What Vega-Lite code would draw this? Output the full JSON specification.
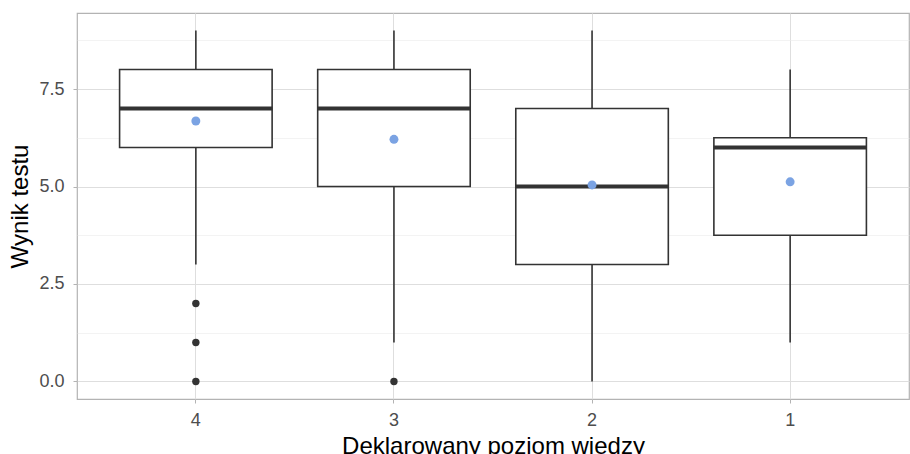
{
  "$schema": "https://vega.github.io/schema/vega-lite/v6.json",
  "autosize": "none",
  "width": 832,
  "height": 386,
  "padding": {"left": 77, "top": 13, "right": 1, "bottom": 55},
  "background": "white",
  "config": {
    "view": {"stroke": "#B3B3B3", "strokeWidth": 1.2},
    "font": "Liberation Sans",
    "axis": {
      "domain": false,
      "tickColor": "#B3B3B3",
      "tickSize": 4,
      "tickWidth": 1,
      "labelColor": "#4D4D4D",
      "labelFontSize": 18,
      "labelFont": "Liberation Sans",
      "titleFont": "Liberation Sans",
      "titleFontSize": 24,
      "titleFontWeight": "normal",
      "titleColor": "#000000",
      "gridColor": "#DEDEDE",
      "gridWidth": 1
    }
  },
  "datasets": {
    "summary": [
      {"poziom": "4", "min": 3, "q1": 6, "median": 7, "q3": 8, "max": 9, "mean": 6.68},
      {"poziom": "3", "min": 1, "q1": 5, "median": 7, "q3": 8, "max": 9, "mean": 6.21},
      {"poziom": "2", "min": 0, "q1": 3, "median": 5, "q3": 7, "max": 9, "mean": 5.04},
      {"poziom": "1", "min": 1, "q1": 3.75, "median": 6, "q3": 6.25, "max": 8, "mean": 5.12}
    ],
    "outliers": [
      {"poziom": "4", "wynik": 0},
      {"poziom": "4", "wynik": 1},
      {"poziom": "4", "wynik": 2},
      {"poziom": "3", "wynik": 0}
    ]
  },
  "resolve": {"axis": {"y": "independent"}},
  "layer": [
    {
      "data": {"name": "summary"},
      "mark": {"type": "rule", "opacity": 0},
      "encoding": {
        "x": {
          "field": "poziom", "type": "nominal", "sort": ["4", "3", "2", "1"],
          "scale": {"paddingInner": 0.23, "paddingOuter": 0.215},
          "axis": {"title": "Deklarowany poziom wiedzy", "labelAngle": 0, "labelPadding": 8, "titlePadding": 5, "grid": true, "bandPosition": 0.5}
        },
        "y": {
          "field": "min", "type": "quantitative",
          "scale": {"domain": [-0.45, 9.45], "nice": false, "zero": false},
          "axis": {"orient": "left", "values": [1.25, 3.75, 6.25, 8.75], "gridWidth": 0.6, "gridColor": "#EBEBEB", "labels": false, "ticks": false, "title": null}
        }
      }
    },
    {
      "data": {"name": "summary"},
      "mark": {"type": "rule", "color": "#333333", "strokeWidth": 1.6},
      "encoding": {
        "x": {"field": "poziom", "type": "nominal", "sort": ["4", "3", "2", "1"]},
        "y": {
          "field": "min", "type": "quantitative",
          "axis": {"orient": "left", "values": [0, 2.5, 5, 7.5], "format": ".1f", "title": "Wynik testu", "labelPadding": 9, "titlePadding": 6, "grid": true}
        },
        "y2": {"field": "max"}
      }
    },
    {
      "data": {"name": "summary"},
      "mark": {"type": "bar", "fill": "white", "stroke": "#333333", "strokeWidth": 1.6},
      "encoding": {
        "x": {"field": "poziom", "type": "nominal", "sort": ["4", "3", "2", "1"]},
        "y": {"field": "q1", "type": "quantitative", "axis": null},
        "y2": {"field": "q3"}
      }
    },
    {
      "data": {"name": "summary"},
      "mark": {"type": "tick", "orient": "horizontal", "color": "#333333", "opacity": 1, "thickness": 4, "size": 153},
      "encoding": {
        "x": {"field": "poziom", "type": "nominal", "sort": ["4", "3", "2", "1"]},
        "y": {"field": "median", "type": "quantitative", "axis": null}
      }
    },
    {
      "data": {"name": "outliers"},
      "mark": {"type": "circle", "color": "#333333", "opacity": 1, "size": 55},
      "encoding": {
        "x": {"field": "poziom", "type": "nominal", "sort": ["4", "3", "2", "1"]},
        "y": {"field": "wynik", "type": "quantitative", "axis": null}
      }
    },
    {
      "data": {"name": "summary"},
      "mark": {"type": "circle", "color": "#7BA3E3", "opacity": 1, "size": 80},
      "encoding": {
        "x": {"field": "poziom", "type": "nominal", "sort": ["4", "3", "2", "1"]},
        "y": {"field": "mean", "type": "quantitative", "axis": null}
      }
    }
  ]
}
